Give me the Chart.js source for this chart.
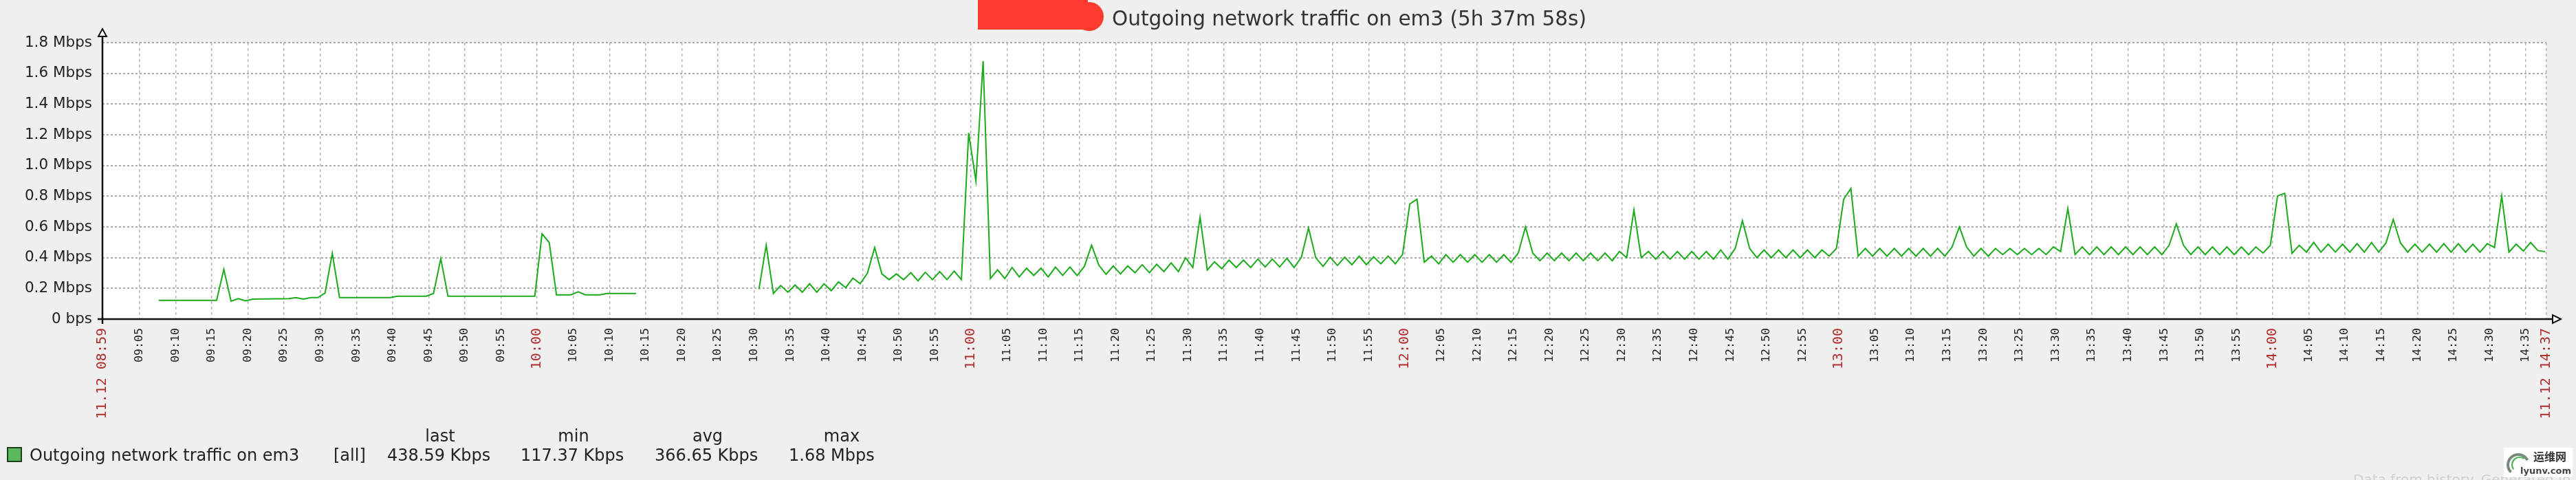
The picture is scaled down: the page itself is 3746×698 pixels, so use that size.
<!DOCTYPE html>
<html><head><meta charset="utf-8">
<script src="https://cdn.jsdelivr.net/npm/chart.js@4.4.1/dist/chart.umd.min.js"></script>
<style>html,body{margin:0;padding:0;background:#efefef;overflow:hidden}canvas{display:block}</style>
</head><body>
<canvas id="c" width="3746" height="698" style="width:3746px;height:698px"></canvas>
<script>
// ---------- data ----------
const graphStart = '08:59:53';
const graphEnd = '14:37:51';
const titleText = 'Outgoing network traffic on em3 (5h 37m 58s)';
const seriesName = 'Outgoing network traffic on em3';
const seriesFunc = '[all]';
const legendHeaders = ['last', 'min', 'avg', 'max'];
const legendValues = ['438.59 Kbps', '117.37 Kbps', '366.65 Kbps', '1.68 Mbps'];
const footerText = 'Data from history. Generated in 0.19 sec';

const yTickValues = [0, 0.2, 0.4, 0.6, 0.8, 1.0, 1.2, 1.4, 1.6, 1.8];
const yTickLabels = ['0 bps', '0.2 Mbps', '0.4 Mbps', '0.6 Mbps', '0.8 Mbps', '1.0 Mbps', '1.2 Mbps', '1.4 Mbps', '1.6 Mbps', '1.8 Mbps'];

const xTickLabels = ['11.12 08:59',
  '09:05','09:10','09:15','09:20','09:25','09:30','09:35','09:40','09:45','09:50','09:55',
  '10:00','10:05','10:10','10:15','10:20','10:25','10:30','10:35','10:40','10:45','10:50','10:55',
  '11:00','11:05','11:10','11:15','11:20','11:25','11:30','11:35','11:40','11:45','11:50','11:55',
  '12:00','12:05','12:10','12:15','12:20','12:25','12:30','12:35','12:40','12:45','12:50','12:55',
  '13:00','13:05','13:10','13:15','13:20','13:25','13:30','13:35','13:40','13:45','13:50','13:55',
  '14:00','14:05','14:10','14:15','14:20','14:25','14:30','14:35',
  '11.12 14:37'];

// samples once per minute (Mbps)
const seg1Start = '09:07:40';
const seg1Mbps = [
  0.122,0.122,0.122,0.122,0.122,0.122,0.122,0.122,0.122,0.324,
  0.117,0.133,0.119,0.130,0.131,0.131,0.132,0.132,0.133,0.140,
  0.130,0.140,0.140,0.170,0.428,0.140,0.140,0.140,0.140,0.140,
  0.140,0.140,0.140,0.149,0.149,0.149,0.149,0.149,0.167,0.394,
  0.149,0.149,0.149,0.149,0.149,0.149,0.149,0.149,0.149,0.149,
  0.149,0.149,0.149,0.555,0.498,0.158,0.158,0.158,0.178,0.158,
  0.158,0.158,0.167,0.167,0.167,0.167,0.167];

const seg2Start = '10:30:40';
const seg2Mbps = [
  0.194,0.481,0.167,0.219,0.175,0.222,0.175,0.230,0.175,0.230,
  0.185,0.242,0.205,0.267,0.230,0.299,0.466,0.294,0.257,0.294,
  0.257,0.302,0.249,0.305,0.257,0.309,0.257,0.312,0.257,1.212,
  0.899,1.680,0.264,0.321,0.264,0.336,0.275,0.331,0.284,0.331,
  0.275,0.339,0.284,0.339,0.284,0.343,0.481,0.351,0.291,0.346,
  0.294,0.346,0.302,0.354,0.302,0.357,0.309,0.366,0.309,0.399,
  0.336,0.663,0.319,0.373,0.328,0.384,0.336,0.384,0.336,0.391,
  0.339,0.391,0.339,0.396,0.336,0.402,0.593,0.399,0.343,0.403,
  0.349,0.403,0.354,0.409,0.354,0.406,0.360,0.410,0.360,0.420,
  0.750,0.780,0.370,0.410,0.360,0.420,0.370,0.420,0.370,0.420,
  0.370,0.420,0.370,0.420,0.370,0.430,0.600,0.430,0.380,0.430,
  0.380,0.430,0.380,0.430,0.380,0.430,0.380,0.430,0.380,0.440,
  0.400,0.710,0.400,0.440,0.390,0.440,0.390,0.440,0.390,0.440,
  0.390,0.440,0.390,0.450,0.390,0.460,0.640,0.460,0.400,0.450,
  0.400,0.450,0.400,0.450,0.400,0.450,0.400,0.450,0.410,0.460,
  0.780,0.850,0.410,0.460,0.410,0.460,0.410,0.460,0.410,0.460,
  0.410,0.460,0.410,0.460,0.410,0.470,0.600,0.470,0.410,0.460,
  0.410,0.460,0.420,0.460,0.420,0.460,0.420,0.460,0.420,0.470,
  0.440,0.720,0.420,0.470,0.420,0.470,0.420,0.470,0.420,0.470,
  0.420,0.470,0.420,0.470,0.420,0.480,0.620,0.480,0.420,0.470,
  0.420,0.470,0.420,0.470,0.420,0.470,0.420,0.470,0.430,0.480,
  0.802,0.819,0.428,0.481,0.436,0.500,0.436,0.488,0.436,0.488,
  0.436,0.491,0.436,0.499,0.436,0.496,0.649,0.496,0.436,0.488,
  0.436,0.488,0.436,0.491,0.436,0.491,0.436,0.488,0.436,0.491,
  0.466,0.802,0.436,0.488,0.443,0.499,0.446,0.439];

// ---------- helpers ----------
function toMin(s) { const p = s.split(':').map(Number); return p[0] * 60 + p[1] + (p[2] || 0) / 60; }
const T0 = toMin(graphStart), T1 = toMin(graphEnd);
const xTickValues = xTickLabels.map((l, i) => i === 0 ? T0 : (i === xTickLabels.length - 1 ? T1 : toMin(l)));
function isMajorValue(v) {
  if (v === undefined || v === null) return false;
  if (Math.abs(v - T0) < 1e-6 || Math.abs(v - T1) < 1e-6) return true;
  return Math.abs(v / 60 - Math.round(v / 60)) < 1e-6;
}
function tickVal(c) { return c && c.tick ? c.tick.value : undefined; }
function labelFor(v) {
  const i = xTickValues.findIndex(t => Math.abs(t - v) < 1e-6);
  return i >= 0 ? xTickLabels[i] : '';
}

const points = [];
seg1Mbps.forEach((v, i) => points.push({ x: toMin(seg1Start) + i, y: v }));
points.push({ x: toMin(seg1Start) + seg1Mbps.length, y: null });
seg2Mbps.forEach((v, i) => points.push({ x: toMin(seg2Start) + i, y: v }));

const BG = '#efefef';

const decor = {
  id: 'decor',
  beforeDraw(chart) {
    const { ctx, chartArea: a } = chart;
    ctx.save();
    ctx.fillStyle = BG; ctx.fillRect(0, 0, chart.width, chart.height);
    ctx.fillStyle = '#ffffff'; ctx.fillRect(a.left, a.top, a.right - a.left, a.bottom - a.top);
    // redaction blob before title
    ctx.fillStyle = '#ff3b30';
    ctx.fillRect(1422, 0, 160, 43);
    ctx.beginPath(); ctx.arc(1584, 24, 21, 0, Math.PI * 2); ctx.fill();
    ctx.beginPath(); ctx.arc(1560, 6, 12, 0, Math.PI * 2); ctx.fill();
    // title
    ctx.fillStyle = '#333333';
    ctx.font = '29.5px "DejaVu Sans"';
    ctx.textAlign = 'left'; ctx.textBaseline = 'alphabetic';
    ctx.fillText(titleText, 1617, 37);
    // legend
    ctx.fillStyle = '#5cb85c'; ctx.fillRect(10, 650, 22, 22);
    ctx.strokeStyle = '#1f3d1f'; ctx.lineWidth = 2; ctx.strokeRect(11, 651, 20, 20);
    ctx.fillStyle = '#222222';
    ctx.font = '24px "DejaVu Sans"';
    ctx.fillText(seriesName, 43, 670);
    ctx.fillText(seriesFunc, 485, 670);
    const valX = [563, 757, 952, 1147];
    const headX = [640, 834, 1029, 1224];
    legendValues.forEach((v, i) => {
      ctx.textAlign = 'left'; ctx.fillText(v, valX[i], 670);
      ctx.textAlign = 'center'; ctx.fillText(legendHeaders[i], headX[i], 642);
    });
    // footer (cut by bottom edge)
    ctx.textAlign = 'left'; ctx.textBaseline = 'top';
    ctx.fillStyle = '#cfcfcf'; ctx.font = '20px "DejaVu Sans"';
    ctx.fillText(footerText, 3422, 689);
    // watermark
    ctx.fillStyle = '#ffffff'; ctx.fillRect(3641, 651, 100, 43);
    ctx.strokeStyle = '#7a8a7a'; ctx.lineWidth = 4;
    ctx.beginPath(); ctx.arc(3662, 676, 15, Math.PI * 0.75, Math.PI * 1.85); ctx.stroke();
    ctx.strokeStyle = '#4caf50'; ctx.lineWidth = 2;
    ctx.beginPath(); ctx.arc(3664, 676, 11, Math.PI * 0.8, Math.PI * 1.7); ctx.stroke();
    ctx.fillStyle = '#333333'; ctx.font = 'bold 16px "Noto Sans CJK SC"';
    ctx.textBaseline = 'alphabetic';
    ctx.fillText('运维网', 3684, 670);
    ctx.fillStyle = '#444444'; ctx.font = 'bold 13px "DejaVu Sans"';
    ctx.fillText('lyunv.com', 3665, 689);
    ctx.restore();
  },
  afterDraw(chart) {
    const { ctx, chartArea: a } = chart;
    ctx.save();
    ctx.strokeStyle = '#111111'; ctx.lineWidth = 2.5;
    ctx.beginPath(); ctx.moveTo(a.left, a.bottom + 7); ctx.lineTo(a.left, 52); ctx.stroke();
    ctx.beginPath(); ctx.moveTo(a.left - 7, a.bottom); ctx.lineTo(3713, a.bottom); ctx.stroke();
    ctx.lineWidth = 2; ctx.fillStyle = '#ffffff';
    ctx.beginPath(); ctx.moveTo(a.left, 42); ctx.lineTo(a.left - 6, 53); ctx.lineTo(a.left + 6, 53); ctx.closePath(); ctx.fill(); ctx.stroke();
    ctx.beginPath(); ctx.moveTo(3724, a.bottom); ctx.lineTo(3712, a.bottom - 6); ctx.lineTo(3712, a.bottom + 6); ctx.closePath(); ctx.fill(); ctx.stroke();
    ctx.restore();
  }
};

new Chart(document.getElementById('c'), {
  type: 'line',
  data: { datasets: [{ data: points, borderColor: '#1aaa1a', borderWidth: 2, pointRadius: 0, tension: 0, spanGaps: false, fill: false }] },
  options: {
    responsive: false, animation: false, devicePixelRatio: 1,
    layout: { padding: { left: 0, top: 62, right: 43, bottom: 0 } },
    plugins: { legend: { display: false }, title: { display: false }, tooltip: { enabled: false } },
    scales: {
      x: {
        type: 'linear', min: T0, max: T1,
        afterFit(s) { s.height = 234; },
        afterBuildTicks(s) { s.ticks = xTickValues.map(v => ({ value: v })); },
        grid: { color: '#b5b5b5', lineWidth: 1.5, drawTicks: false },
        border: { display: false, dash: [4, 4] },
        ticks: {
          autoSkip: false, minRotation: 90, maxRotation: 90, padding: 13,
          callback: (v) => labelFor(v),
          color: c => isMajorValue(tickVal(c)) ? '#b03030' : '#222222',
          font: c => ({ family: 'DejaVu Sans Mono', size: isMajorValue(tickVal(c)) ? 20 : 16.6 })
        }
      },
      y: {
        min: 0, max: 1.8,
        afterFit(s) { s.width = 149; },
        afterBuildTicks(s) { s.ticks = yTickValues.map(v => ({ value: v })); },
        grid: { color: '#aaaaaa', lineWidth: 2, drawTicks: false },
        border: { display: false, dash: [3, 3] },
        ticks: {
          padding: 15, color: '#222222',
          font: { family: 'DejaVu Sans', size: 21.5 },
          callback: (v, i) => yTickLabels[i]
        }
      }
    }
  },
  plugins: [decor]
});
</script>
</body></html>
